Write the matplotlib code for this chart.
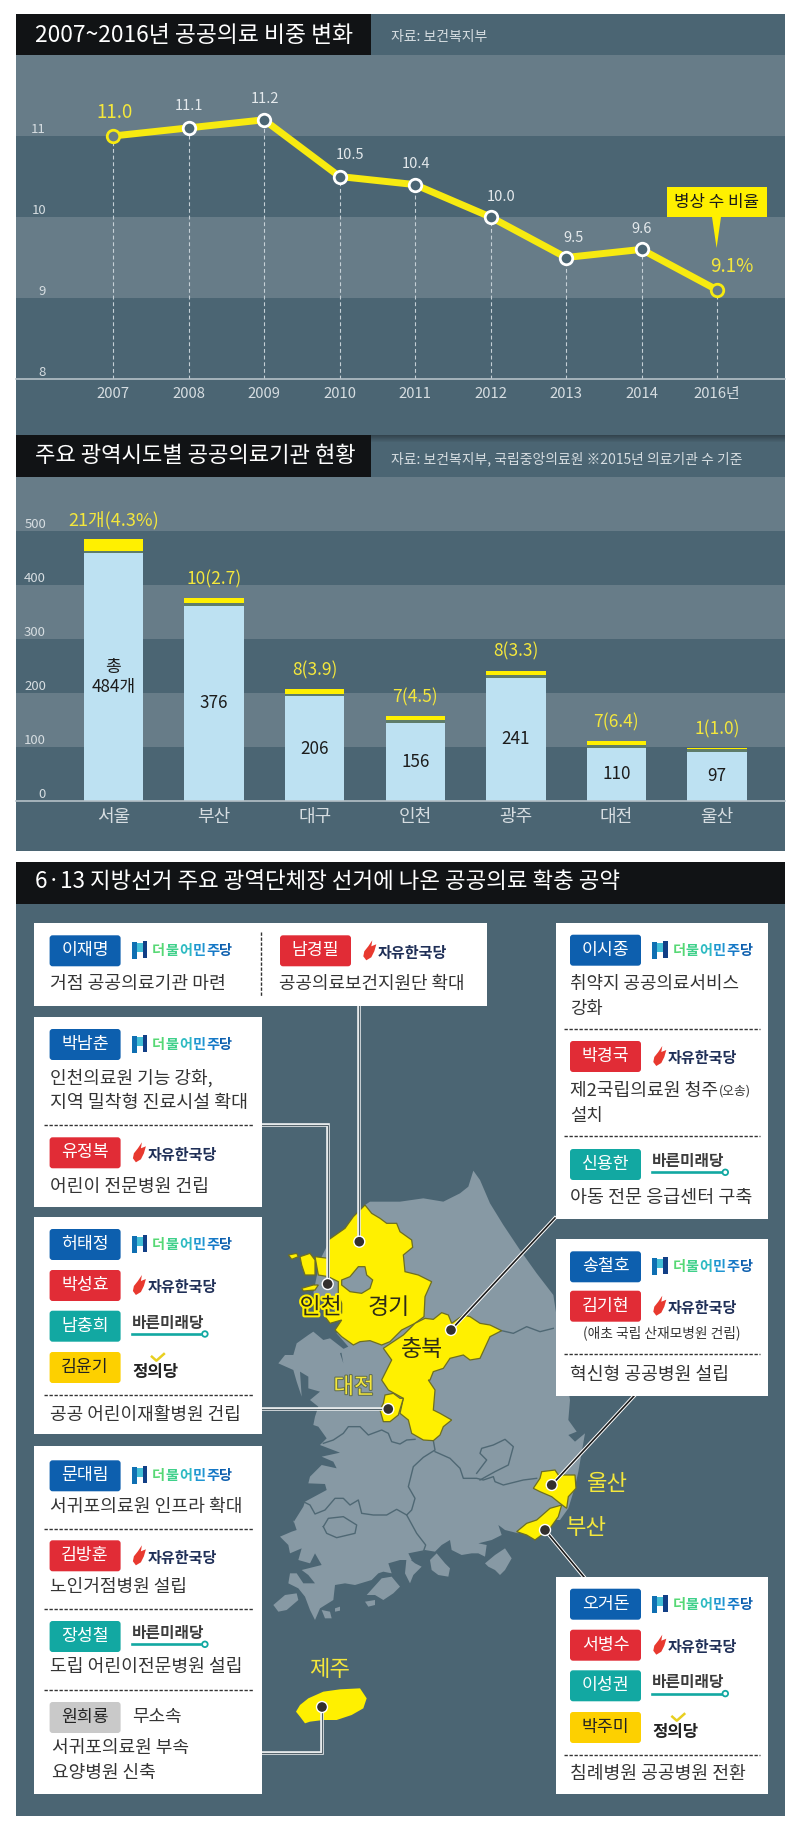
import matplotlib
matplotlib.use('Agg')
import matplotlib.pyplot as plt
import matplotlib.patheffects as pe
from matplotlib.patches import Rectangle, Polygon, FancyBboxPatch, Circle

plt.rcParams['font.family'] = ['Noto Sans CJK KR', 'DejaVu Sans']

# ---------- data ----------
years = ['2007', '2008', '2009', '2010', '2011', '2012', '2013', '2014', '2016년']
ratio = [11.0, 11.1, 11.2, 10.5, 10.4, 10.0, 9.5, 9.6, 9.1]
ratio_labels = ['11.0', '11.1', '11.2', '10.5', '10.4', '10.0', '9.5', '9.6', '9.1%']
ratio_offsets = [(1.6, -23), (0, -21.6), (0.5, -21), (10.4, -21.6), (1, -20.5), (10.5, -20), (7, -20), (0, -20), (14.5, -23)]
line_ticks = [8, 9, 10, 11]

cities = ['서울', '부산', '대구', '인천', '광주', '대전', '울산']
totals = [484, 376, 206, 156, 241, 110, 97]
public = [21, 10, 8, 7, 8, 7, 1]
public_labels = ['21개(4.3%)', '10(2.7)', '8(3.9)', '7(4.5)', '8(3.3)', '7(6.4)', '1(1.0)']
total_labels = ['총\n484개', '376', '206', '156', '241', '110', '97']
bar_ticks = [0, 100, 200, 300, 400, 500]
BAR_GAP = 5

# ---------- colours ----------
DARK = '#4b6573'
LIGHT = '#677c88'
BLACK = '#111315'
YEL = '#fff000'
LBL_Y = '#f4e73c'
TICK = '#d6dde1'
BLUE = '#bde1f2'
MAP = '#8799a4'
EDGE = '#6d6e22'
INK = '#343434'
C_DEM = '#0d5fae'
C_LKP = '#e12c36'
C_BAR = '#12a8a2'
C_JUS = '#fdd000'
C_IND = '#c9c9c9'

fig = plt.figure(figsize=(8, 18.28), dpi=100, facecolor='white')
W, H = 800, 1828


def make_axes(x, y, w, h, z):
    return fig.add_axes([x / W, 1 - (y + h) / H, w / W, h / H], zorder=z)


ax0 = make_axes(0, 0, W, H, 0)
ax0.set_xlim(0, W); ax0.set_ylim(H, 0); ax0.axis('off')
top = make_axes(0, 0, W, H, 5)
top.set_xlim(0, W); top.set_ylim(H, 0); top.axis('off'); top.patch.set_alpha(0)
renderer = fig.canvas.get_renderer()


def fit(ax, s, x0, x1, y, color=INK, weight='regular', zorder=6, **kw):
    t = ax.text(x0, y, s, color=color, fontsize=10, va='center', ha='left', weight=weight, zorder=zorder, **kw)
    bb = t.get_window_extent(renderer)
    t.set_fontsize(10 * (x1 - x0) / bb.width)
    return t


def rect(ax, x0, y0, x1, y1, color, **kw):
    ax.add_patch(Rectangle((x0, y0), x1 - x0, y1 - y0, facecolor=color, edgecolor='none', **kw))


# ---------- panel backgrounds ----------
rect(ax0, 16, 14, 785, 851, DARK)
rect(ax0, 16, 14, 371, 55, BLACK, zorder=2)
rect(ax0, 16, 435, 371, 477, BLACK, zorder=2)
for i in range(7):
    rect(ax0, 371, 435 + i, 785, 436 + i, '#2c3a42', alpha=0.75 * (1 - i / 7), zorder=1)
rect(ax0, 16, 862, 785, 1816, DARK)
rect(ax0, 16, 862, 785, 903.5, BLACK, zorder=2)

fit(ax0, '2007~2016년 공공의료 비중 변화', 34.8, 353, 35, 'white', 'medium', zorder=3)
fit(ax0, '자료: 보건복지부', 391, 487.5, 36.5, TICK, zorder=3)
fit(ax0, '주요 광역시도별 공공의료기관 현황', 34.8, 355.5, 456.5, 'white', 'medium', zorder=3)
fit(ax0, '자료: 보건복지부, 국립중앙의료원 ※2015년 의료기관 수 기준', 391, 740.7, 459, TICK, zorder=3)
fit(ax0, '6·13 지방선거 주요 광역단체장 선거에 나온 공공의료 확충 공약', 34.8, 618, 882, 'white', 'medium', zorder=3)

# ---------- line chart ----------
ax1 = make_axes(16, 55, 769, 324, 1)
ax1.patch.set_alpha(0)
xs = list(range(len(years)))
ax1.set_xlim(-97 / 75.5, 8 + 68 / 75.5)
ax1.set_ylim(8, 12)
for lo, hi, c in [(11, 12, LIGHT), (10, 11, DARK), (9, 10, LIGHT), (8, 9, DARK)]:
    ax1.axhspan(lo, hi, color=c, lw=0, zorder=0)
ax1.vlines(xs, 8, ratio, colors='#c5d0d6', linestyles=(0, (3.5, 2.5)), linewidth=0.8, zorder=1)
ax1.plot(xs, ratio, color='#f7ea10', lw=5, solid_joinstyle='miter', zorder=2)
for i, (x, v) in enumerate(zip(xs, ratio)):
    special = i in (0, len(xs) - 1)
    ax1.plot([x], [v], 'o', ms=9, mfc=LIGHT if special else DARK, mec='#f7ea10' if special else 'white', mew=2, zorder=3)
    dx, dy = ratio_offsets[i]
    ax1.annotate(ratio_labels[i], (x, v), xytext=(dx * .72, -dy * .72), textcoords='offset points',
                 ha='center', va='center', color=LBL_Y if special else '#e4e9ec',
                 fontsize=13.5 if special else 10.5, zorder=4)
ax1.set_xticks(xs, years, color=TICK, fontsize=10.7)
ax1.set_yticks(line_ticks, [str(v) for v in line_ticks], color=TICK, fontsize=9.5, va='bottom')
ax1.tick_params(axis='x', length=0, pad=6)
ax1.tick_params(axis='y', length=0, pad=-21.6, direction='in')
for s in ('top', 'left', 'right'):
    ax1.spines[s].set_visible(False)
ax1.spines['bottom'].set_color('#b5c1c8'); ax1.spines['bottom'].set_linewidth(1.2)

# callout
rect(top, 666.5, 187, 767, 217, YEL)
top.add_patch(Polygon([(712, 217), (721, 217), (716.6, 248)], facecolor=YEL, edgecolor='none'))
fit(top, '병상 수 비율', 674, 759, 201.5, '#1a1a1a', 'medium')

# ---------- bar chart ----------
ax2 = make_axes(16, 477, 769, 323.7, 1)
ax2.patch.set_alpha(0)
ax2.set_xlim(-97.5 / 100.6, 6 + 68 / 100.6)
ax2.set_ylim(0, 323.7 / .54)
bands = [(500, 600, LIGHT), (400, 500, DARK), (300, 400, LIGHT), (200, 300, DARK), (100, 200, LIGHT), (0, 100, DARK)]
for lo, hi, c in bands:
    ax2.axhspan(lo, hi, color=c, lw=0, zorder=0)
bx = list(range(len(cities)))
others = [t - p for t, p in zip(totals, public)]
inner = [o - BAR_GAP for o in others]
ax2.bar(bx, inner, width=.59, color=BLUE, zorder=2)
ax2.bar(bx, [BAR_GAP] * len(bx), bottom=inner, width=.59, color='#5f7d6a', zorder=2)
ax2.bar(bx, public, bottom=others, width=.59, color=YEL, zorder=2)
for i, x in enumerate(bx):
    ax2.annotate(public_labels[i], (x, totals[i]), xytext=(0, 13.5), textcoords='offset points',
                 ha='center', va='center', color=LBL_Y, fontsize=13 if i == 0 else 12.5, zorder=4)
    ax2.text(x, inner[i] / 2, total_labels[i], ha='center', va='center', color='#1c1c1c',
             fontsize=12.3, linespacing=1.1, zorder=4)
ax2.set_xticks(bx, cities, color=TICK, fontsize=13)
ax2.set_yticks(bar_ticks, [str(v) for v in bar_ticks], color=TICK, fontsize=9.5, va='bottom')
ax2.tick_params(axis='x', length=0, pad=5)
ax2.tick_params(axis='y', length=0, pad=-21.6, direction='in')
for s in ('top', 'left', 'right'):
    ax2.spines[s].set_visible(False)
ax2.spines['bottom'].set_color('#b5c1c8'); ax2.spines['bottom'].set_linewidth(1.2)


# ---------- map (outline) ----------
def z(x0, y0, pts):
    return [(x0 + a / 3, y0 + b / 3) for a, b in pts]


north = z(270, 1160, [(180, 240), (225, 205), (250, 170), (285, 135), (300, 125), (390, 125), (460, 115), (520, 125),
                      (570, 100), (595, 80), (610, 32), (630, 60), (660, 130), (700, 195), (750, 270), (800, 340),
                      (850, 405), (880, 600)])
east = z(500, 1380, [(210, 60), (205, 120), (230, 155), (205, 165), (225, 185), (255, 160), (235, 275), (225, 320), (205, 385), (180, 420)]) + \
    z(260, 1370, [(880, 450), (790, 470)])
south = z(265, 1520, [(760, 40), (720, 30), (700, 15), (710, 45), (680, 60), (640, 70), (665, 75), (660, 110), (640, 100),
                      (620, 100), (590, 105), (560, 90), (555, 60), (530, 75), (510, 95), (480, 90), (430, 100), (440, 120),
                      (405, 120), (370, 130), (380, 160), (355, 155), (340, 160), (320, 180), (270, 195), (240, 190),
                      (210, 195), (205, 240), (165, 265), (150, 300), (135, 270), (120, 230), (100, 205), (70, 190),
                      (75, 160), (95, 160), (115, 190), (150, 190), (130, 165), (110, 150), (170, 135), (150, 100),
                      (135, 130), (100, 120), (110, 85), (75, 100), (70, 75), (45, 50), (80, 35), (95, 30), (85, 0)])
west = z(265, 1330, [(85, 578), (115, 530), (120, 515), (185, 480), (180, 462), (130, 460), (135, 440), (170, 405), (215, 415),
                     (205, 395), (170, 380), (225, 368), (165, 345), (185, 325), (160, 290), (145, 285), (150, 260), (160, 230),
                     (135, 210), (165, 185), (130, 175), (130, 140), (105, 125), (110, 200), (95, 155), (85, 120), (40, 100),
                     (60, 75), (85, 75), (95, 40), (130, 15), (145, 5), (175, 30), (195, 25), (240, 60), (225, 70), (235, 100),
                     (228, 60), (250, 50)])
northwest = z(270, 1160, [(200, 520), (215, 470), (130, 400), (150, 300)])
top.add_patch(Polygon(north + east + south + west + northwest, closed=True, facecolor=MAP, edgecolor='none', zorder=1))

islands = [
    z(265, 1520, [(660, 130), (690, 105), (720, 85), (740, 115), (720, 150), (705, 165), (690, 150), (670, 140)]),
    z(265, 1520, [(495, 120), (515, 100), (540, 130), (555, 145), (550, 170), (520, 165), (500, 150)]),
    z(265, 1520, [(305, 225), (350, 175), (380, 170), (405, 200), (385, 220), (355, 240), (330, 225)]),
    z(265, 1520, [(425, 110), (450, 130), (470, 140), (445, 165), (435, 190), (420, 160)]),
    z(265, 1520, [(25, 255), (60, 225), (95, 220), (100, 240), (65, 270), (40, 275)]),
    z(265, 1520, [(170, 270), (195, 275), (200, 295), (180, 295)]),
    z(265, 1520, [(300, 245), (330, 240), (330, 255), (310, 260)]),
    z(265, 1520, [(210, 265), (225, 260), (225, 272), (210, 275)]),
]
for poly in islands:
    top.add_patch(Polygon(poly, closed=True, facecolor=MAP, edgecolor='none', zorder=1))

borders = [
    z(260, 1370, [(190, 220), (220, 210), (250, 190), (265, 170), (300, 170), (325, 195), (365, 180), (385, 190), (395, 215), (420, 222), (440, 210), (465, 208)]),
    z(260, 1370, [(520, 212), (525, 240), (490, 262), (460, 290), (445, 350), (465, 385), (455, 420), (440, 435), (470, 490), (497, 525), (490, 545)]),
    z(260, 1370, [(130, 395), (150, 405), (165, 432), (195, 420), (225, 385), (250, 385), (270, 405), (295, 390), (305, 430), (340, 435), (380, 435), (410, 418), (440, 435)]),
    z(260, 1370, [(525, 245), (570, 265), (600, 295), (610, 325), (650, 325), (670, 330), (700, 320), (705, 335), (730, 345), (790, 330), (830, 325)]),
    z(260, 1370, [(650, 310), (680, 270), (660, 250), (665, 235), (700, 225), (735, 208), (760, 230), (745, 285), (705, 305), (660, 330)]),
    z(260, 1370, [(190, 470), (205, 445), (250, 440), (290, 465), (285, 490), (230, 503), (200, 490), (190, 470)]),
    z(270, 1160, [(695, 512), (730, 520), (770, 500), (810, 515), (850, 505)]),
]
for b in borders:
    top.plot(*zip(*b), color='#4f6874', lw=1.0, zorder=2)

yellow = [
    z(270, 1160, [(285, 135), (305, 160), (330, 175), (350, 190), (380, 190), (390, 215), (425, 240), (428, 262), (400, 285),
                  (405, 335), (445, 345), (485, 365), (465, 410), (462, 470), (435, 490), (395, 510), (360, 545), (335, 555),
                  (300, 542), (270, 545), (250, 555), (215, 530), (195, 510), (215, 480), (180, 490), (165, 470), (215, 460),
                  (215, 430), (205, 405), (205, 365), (175, 350), (145, 345), (135, 290), (175, 295), (175, 240), (225, 205), (250, 170)]),
    z(270, 1160, [(90, 290), (120, 280), (135, 300), (135, 345), (105, 345), (95, 315)]),
    z(270, 1160, [(55, 285), (80, 280), (85, 290), (65, 298)]),
    z(270, 1160, [(95, 385), (130, 375), (145, 375), (135, 390), (100, 393)]),
    z(270, 1160, [(340, 565), (370, 545), (400, 525), (435, 490), (465, 475), (490, 478), (515, 458), (535, 465), (545, 490),
                  (580, 465), (600, 470), (630, 490), (660, 495), (695, 512), (660, 530), (630, 595), (600, 600), (580, 585),
                  (540, 595), (520, 625), (490, 635), (480, 660)]) +
    z(260, 1370, [(505, 30), (525, 60), (520, 120), (540, 130), (575, 150), (550, 170), (540, 195), (520, 212), (490, 210),
                  (455, 190), (445, 150), (420, 130), (430, 85), (385, 60), (365, 30)]) +
    z(270, 1160, [(365, 600)]),
    z(260, 1370, [(375, 75), (400, 70), (420, 85), (430, 85), (415, 135), (390, 155), (370, 155), (360, 120), (370, 100)]),
    z(500, 1380, [(100, 325), (120, 295), (125, 275), (165, 270), (175, 285), (225, 285), (228, 325), (205, 350), (200, 385), (180, 370), (155, 350), (120, 335)]),
    z(500, 1380, [(50, 455), (80, 430), (110, 420), (150, 385), (185, 375), (175, 410), (150, 445), (125, 465), (105, 480), (80, 465)]),
    z(280, 1650, [(48, 185), (60, 165), (85, 145), (130, 125), (180, 118), (240, 115), (260, 145), (250, 175), (215, 195), (170, 210), (130, 210), (90, 215), (75, 220), (60, 200)]),
]
for i, poly in enumerate(yellow):
    top.add_patch(Polygon(poly, closed=True, facecolor=YEL, edgecolor=EDGE if i < 8 else 'none', lw=0.9, zorder=3))
seoul = z(270, 1160, [(215, 360), (240, 350), (265, 320), (285, 320), (290, 345), (308, 360), (300, 385), (275, 400), (240, 395), (215, 375)])
top.add_patch(Polygon(seoul, closed=True, facecolor=MAP, edgecolor=EDGE, lw=0.9, zorder=3))

# leader lines and dots
dots = {'경기': (359.3, 1241.7), '인천': (327.7, 1284), '충북': (451, 1330), '대전': (388.3, 1409),
        '울산': (551.7, 1485), '부산': (545, 1530), '제주': (322, 1707)}
straight = [[(359.3, 1006), dots['경기']], [(261.5, 1125), (327.7, 1125), dots['인천']], [(261.5, 1409), dots['대전']],
            [(261.5, 1753), (322, 1753), dots['제주']]]
diag = [[(555, 1218), dots['충북']], [(634, 1396), dots['울산']], [(584, 1577), dots['부산']]]
for p in straight:
    top.plot(*zip(*p), color='#eef1f2', lw=2.6, solid_joinstyle='miter', zorder=4)
    top.plot(*zip(*p), color='#55636b', lw=0.8, solid_joinstyle='miter', zorder=4)
for p in diag:
    top.plot(*zip(*p), color='white', lw=2.6, zorder=4)
    top.plot(*zip(*p), color='#1b1b1b', lw=1.2, zorder=4)
for (x, y) in dots.values():
    top.add_patch(Circle((x, y), 5.5, facecolor='#34302e', edgecolor='white', lw=1, zorder=5))

labels_dark = [('인천', 320.7, 1307.5, True), ('경기', 389, 1308, False), ('충북', 421.7, 1350, False)]
for s, x, y, halo in labels_dark:
    t = top.text(x, y, s, ha='center', va='center', color='#2e2c18', fontsize=16.5, zorder=6)
    if halo:
        t.set_path_effects([pe.withStroke(linewidth=3, foreground=YEL)])
t = top.text(354, 1387, '대전', ha='center', va='center', color=LBL_Y, fontsize=16, zorder=6)
t.set_path_effects([pe.withStroke(linewidth=1.4, foreground='#5d6a4c')])
for s, x, y in [('울산', 607.7, 1483), ('부산', 586.7, 1528), ('제주', 330, 1669)]:
    top.text(x, y, s, ha='center', va='center', color=LBL_Y, fontsize=16, zorder=6)

# ---------- boxes ----------
boxes = [(34.3, 923.3, 487, 1006), (34.3, 1017.3, 261.5, 1206.7), (34.3, 1217.3, 261.5, 1434.3), (34.3, 1446, 261.5, 1794.3),
         (556, 923.3, 768.3, 1218.7), (556, 1239.3, 768.3, 1396), (556, 1577.3, 768.3, 1794.3)]
for x0, y0, x1, y1 in boxes:
    rect(top, x0, y0, x1, y1, 'white', zorder=5)

DEM, LKP, BAR, JUS, IND = '더불어민주당', '자유한국당', '바른미래당', '정의당', '무소속'
CHIP_COL = {DEM: C_DEM, LKP: C_LKP, BAR: C_BAR, JUS: C_JUS, IND: C_IND}
chips = [
    ('이재명', DEM, 49.6, 935.3), ('남경필', LKP, 280, 935.3),
    ('박남춘', DEM, 49.6, 1029), ('유정복', LKP, 49.6, 1137.3),
    ('허태정', DEM, 49.6, 1229), ('박성효', LKP, 49.6, 1270), ('남충희', BAR, 49.6, 1310.7), ('김윤기', JUS, 49.6, 1352),
    ('문대림', DEM, 49.6, 1460.3), ('김방훈', LKP, 49.6, 1540.3), ('장성철', BAR, 49.6, 1621), ('원희룡', IND, 49.6, 1702),
    ('이시종', DEM, 570, 934.7), ('박경국', LKP, 570, 1041), ('신용한', BAR, 570, 1149),
    ('송철호', DEM, 570, 1251.3), ('김기현', LKP, 570, 1290.7),
    ('오거돈', DEM, 570, 1588.7), ('서병수', LKP, 570, 1629.7), ('이성권', BAR, 570, 1670.3), ('박주미', JUS, 570, 1712),
]
DEM_COLORS = ['#56d874', '#3fd08a', '#2ebbc2', '#1f95d2', '#1578c6', '#0d5fae']


def logo(party, x, y):
    lx = x + 82.3
    if party == DEM:
        rect(top, lx, y + 7, lx + 5, y + 24, '#0f6fb2', zorder=6)
        rect(top, lx + 5, y + 8, lx + 11, y + 17, '#43bfd6', zorder=6)
        rect(top, lx + 11, y + 6, lx + 15.5, y + 23, '#123f86', zorder=6)
        cw = (232.7 - 152) / 6
        for i, ch in enumerate(party):
            top.text(lx + 20 + cw * (i + .5), y + 16, ch, ha='center', va='center', color=DEM_COLORS[i],
                     fontsize=10.2, weight='bold', zorder=6)
    elif party == LKP:
        top.add_patch(Polygon([(lx + 10, y + 5), (lx + 9, y + 11), (lx + 14, y + 9), (lx + 12, y + 16), (lx + 9, y + 22),
                               (lx + 4, y + 25), (lx + 1, y + 21), (lx + 2, y + 16), (lx + 6, y + 11)],
                              facecolor='#e8392f', edgecolor='none', zorder=6))
        fit(top, party, lx + 15.3, lx + 84.5, y + 17.4, '#1f2f57', 'bold')
    elif party == BAR:
        fit(top, party, lx - .4, lx + 72, y + 12, '#3d3d3d', 'bold')
        top.plot([lx, lx + 68.5], [y + 23.3, y + 23.3], color=C_BAR, lw=1.9, zorder=6)
        top.add_patch(Circle((lx + 73, y + 23.3), 2.8, facecolor='white', edgecolor=C_BAR, lw=1.3, zorder=6))
    elif party == JUS:
        fit(top, party, lx, lx + 46, y + 20, '#222222', 'bold')
        top.plot([lx + 20, lx + 24.5, lx + 32], [y + 4.7, y + 8.7, y + 2], color='#e8cf20', lw=1.8, zorder=6)
    else:
        fit(top, party, lx, lx + 49.6, y + 15, INK)


for name, party, x, y in chips:
    top.add_patch(FancyBboxPatch((x + 2, y + 2), 67, 27, boxstyle='round,pad=2,rounding_size=3',
                                 facecolor=CHIP_COL[party], edgecolor='none', zorder=6))
    top.text(x + 35.5, y + 15, name, ha='center', va='center', fontsize=12.4, zorder=7, weight='medium',
             color='#222222' if party in (JUS, IND) else 'white')
    logo(party, x, y)

pledges = [
    ('거점 공공의료기관 마련', 49.6, 225, 984.3), ('공공의료보건지원단 확대', 278.8, 464.5, 984.3),
    ('인천의료원 기능 강화,', 49.6, 212, 1078), ('지역 밀착형 진료시설 확대', 49.6, 247.6, 1103.3),
    ('어린이 전문병원 건립', 49.6, 208, 1186.7), ('공공 어린이재활병원 건립', 49.6, 240.4, 1415),
    ('서귀포의료원 인프라 확대', 49.6, 241.4, 1506.7), ('노인거점병원 설립', 49.6, 186.7, 1587.3),
    ('도립 어린이전문병원 설립', 49.6, 241.4, 1667.3), ('서귀포의료원 부속', 52, 189, 1748.3), ('요양병원 신축', 52, 156, 1772.7),
    ('취약지 공공의료서비스', 570, 739, 984), ('강화', 570, 602.6, 1009),
    ('설치', 570, 602.6, 1115.7), ('아동 전문 응급센터 구축', 570, 752, 1198.3),
    ('(애초 국립 산재모병원 건립)', 583, 740.7, 1332.7), ('혁신형 공공병원 설립', 570, 729, 1375),
    ('침례병원 공공병원 전환', 570, 745.8, 1774.3),
]
for s, x0, x1, y in pledges:
    fit(top, s, x0, x1, y)
fit(top, '제2국립의료원 청주', 570, 718, 1091)
fit(top, '(오송)', 719, 751, 1091)

dash = (0, (2.4, 1.2))
for y, x0, x1 in [(1125, 43.5, 253), (1395, 43.5, 253), (1529, 43.5, 253), (1609.3, 43.5, 253), (1690.3, 43.5, 253),
                  (1028.7, 564, 759.6), (1136.3, 564, 759.6), (1353.7, 564, 759.6), (1755, 564, 759.6)]:
    top.plot([x0, x1], [y, y], color='#333333', lw=1.0, linestyle=dash, zorder=6)
top.plot([261.4, 261.4], [931.7, 996.7], color='#333333', lw=1.0, linestyle=dash, zorder=6)

fig.savefig('out.png', dpi=100, facecolor='white')
